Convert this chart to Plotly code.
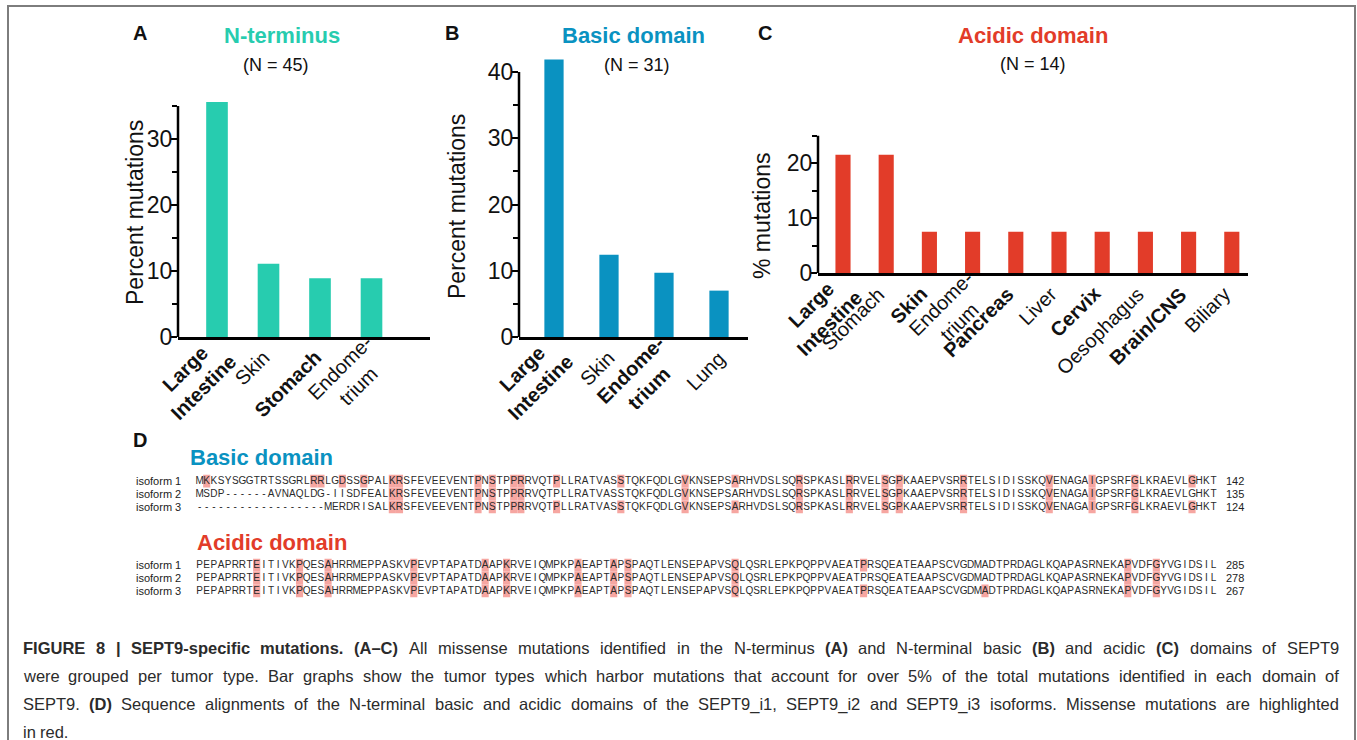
import plotly.graph_objects as go

W, H = 1357, 740

# ---------------- bar chart data ----------------
nterm_ticks = ["<b>Large<br>Intestine</b>", "Skin", "<b>Stomach</b>", "Endome-<br>trium"]
nterm_pct = [35.6, 11.1, 8.9, 8.9]

basic_ticks = ["<b>Large<br>Intestine</b>", "Skin", "<b>Endome-<br>trium</b>", "Lung"]
basic_pct = [41.9, 12.4, 9.7, 7.0]

acidic_ticks = ["<b>Large<br>Intestine</b>", "Stomach", "<b>Skin</b>", "Endome-<br>trium",
                "<b>Pancreas</b>", "Liver", "<b>Cervix</b>", "Oesophagus",
                "<b>Brain/CNS</b>", "Biliary"]
acidic_pct = [21.5, 21.5, 7.5, 7.5, 7.5, 7.5, 7.5, 7.5, 7.5, 7.5]

# ---------------- sequence alignment data ----------------
basic_seqs = [
    "MKKSYSGGTRTSSGRLRRLGDSSGPALKRSFEVEEVENTPNSTPPRRVQTPLLRATVASSTQKFQDLGVKNSEPSARHVDSLSQRSPKASLRRVELSGPKAAEPVSRRTELSIDISSKQVENAGAIGPSRFGLKRAEVLGHKT",
    "MSDP------AVNAQLDG-IISDFEALKRSFEVEEVENTPNSTPPRRVQTPLLRATVASSTQKFQDLGVKNSEPSARHVDSLSQRSPKASLRRVELSGPKAAEPVSRRTELSIDISSKQVENAGAIGPSRFGLKRAEVLGHKT",
    "------------------MERDRISALKRSFEVEEVENTPNSTPPRRVQTPLLRATVASSTQKFQDLGVKNSEPSARHVDSLSQRSPKASLRRVELSGPKAAEPVSRRTELSIDISSKQVENAGAIGPSRFGLKRAEVLGHKT",
]
basic_ends = [142, 135, 124]
basic_hits = [
    [2, 17, 18, 21, 24, 28, 29, 40, 42, 45, 46, 51, 60, 69, 76, 85, 92, 97, 99, 108, 120, 126, 132, 140],
    [28, 29, 40, 42, 45, 46, 69, 85, 92, 97, 99, 108, 120, 126, 132],
    [28, 29, 40, 42, 45, 46, 51, 60, 69, 76, 85, 92, 97, 99, 108, 120, 126, 132, 140],
]

acidic_seq = "PEPAPRRTEITIVKPQESAHRRMEPPASKVPEVPTAPATDAAPKRVEIQMPKPAEAPTAPSPAQTLENSEPAPVSQLQSRLEPKPQPPVAEATPRSQEATEAAPSCVGDMADTPRDAGLKQAPASRNEKAPVDFGYVGIDSIL"
acidic_seqs = [acidic_seq, acidic_seq, acidic_seq]
acidic_ends = [285, 278, 267]
acidic_hits = [
    [9, 15, 19, 31, 41, 44, 54, 59, 61, 76, 94, 131, 135],
    [9, 15, 19, 31, 41, 44, 54, 59, 61, 76, 131, 135],
    [9, 15, 19, 31, 41, 44, 54, 59, 61, 76, 94, 111, 131, 135],
]
isoform_names = ["isoform 1", "isoform 2", "isoform 3"]

# caption: list of lines, each a list of (text, bold) runs
caption_lines = [
    [("FIGURE 8 | SEPT9-specific mutations. (A–C)", True),
     (" All missense mutations identified in the N-terminus ", False), ("(A)", True),
     (" and N-terminal basic ", False), ("(B)", True), (" and acidic ", False), ("(C)", True),
     (" domains of SEPT9", False)],
    [("were grouped per tumor type. Bar graphs show the tumor types which harbor mutations that account "
      "for over 5% of the total mutations identified in each domain of", False)],
    [("SEPT9. ", False), ("(D)", True),
     (" Sequence alignments of the N-terminal basic and acidic domains of the SEPT9_i1, SEPT9_i2 and "
      "SEPT9_i3 isoforms. Missense mutations are highlighted", False)],
    [("in red.", False)],
]

TEAL = "#27CCAF"
BLUE = "#0A92C1"
RED = "#E23C29"
HILITE = "#F6A6A1"
FONT = "Liberation Sans, Arial, sans-serif"


def fx(p):
    return p / W


def fy(p):
    return 1 - p / H


fig = go.Figure()
annotations = []
shapes = []

# ---------------- bar panels ----------------
panels = [
    # axis suffix, ticks, values, colour, bar width, x px, cat0 px, spacing, y0 px, px/unit, ymax, axis top, label dx
    ("", nterm_ticks, nterm_pct, TEAL, 0.42, (178, 430), 217, 51.5, 337, 6.6, 36, 35, 8),
    ("2", basic_ticks, basic_pct, BLUE, 0.35, (519, 748), 554, 55.0, 337, 6.625, 43, 40, 13),
    ("3", acidic_ticks, acidic_pct, RED, 0.35, (818, 1248), 843, 43.2, 273, 5.5, 25, 25, 5),
]

for suf, ticks, vals, col, bw, (xl, xr), c0, sp, y0, ppu, ymax, ytop, ldx in panels:
    xs = list(range(len(vals)))
    xa, ya = "x" + suf, "y" + suf
    fig.add_trace(go.Bar(x=xs, y=vals, width=bw, marker=dict(color=col, line=dict(width=0)),
                         xaxis=xa, yaxis=ya, showlegend=False, hoverinfo="skip"))
    ytop_px = y0 - ymax * ppu
    fig.layout["xaxis" + suf] = dict(
        domain=[fx(xl), fx(xr)], anchor=ya,
        range=[(xl - c0) / sp, (xr - c0) / sp],
        tickmode="array", tickvals=xs, showticklabels=False,
        showline=True, linewidth=2.5, linecolor="black", ticks="",
        showgrid=False, zeroline=False, fixedrange=True, automargin=False,
    )
    fig.layout["yaxis" + suf] = dict(
        domain=[fy(y0), fy(ytop_px)], anchor=xa, range=[0, ymax],
        tickmode="linear", tick0=0, dtick=10, ticks="outside", ticklen=6, tickwidth=2,
        tickcolor="black", ticklabelstandoff=-6,
        minor=dict(dtick=5, tick0=0, ticks="outside", ticklen=5, tickwidth=2, tickcolor="black"),
        tickfont=dict(family=FONT, size=23, color="#111"),
        showline=False, showgrid=False, zeroline=False, fixedrange=True, automargin=False,
    )
    shapes.append(dict(type="line", xref=xa + " domain", yref=ya,
                       x0=0, x1=0, y0=0, y1=ytop, line=dict(color="black", width=2.5)))
    # rotated category labels, lines centred within each label
    for i, t in zip(xs, ticks):
        two_line = "<br>" in t
        annotations.append(dict(x=i, y=0, xref=xa, yref=ya + " domain", text=t, textangle=-45,
                                xanchor="right", yanchor="top", align="center",
                                xshift=26 if two_line else ldx, yshift=8 if two_line else -7,
                                showarrow=False, font=dict(family=FONT, size=20, color="#111")))

# ---------------- sequence alignment panels ----------------
PITCH = 7.14
SEQ_X0 = 196
ROW_H = 13
blocks = [
    ("4", basic_seqs, basic_hits, basic_ends, 481),
    ("5", acidic_seqs, acidic_hits, acidic_ends, 565),
]
for suf, seqs, hits, ends, top_row in blocks:
    n = max(len(s) for s in seqs)
    for r, (seq, hit) in enumerate(zip(seqs, hits)):
        fig.add_trace(go.Bar(x=hit, y=[1] * len(hit), base=[r - 0.5] * len(hit), width=1.0,
                             marker=dict(color=HILITE, line=dict(width=0)),
                             xaxis="x" + suf, yaxis="y" + suf, showlegend=False, hoverinfo="skip"))
    for r, seq in enumerate(seqs):
        fig.add_trace(go.Scatter(x=list(range(1, len(seq) + 1)), y=[r] * len(seq), text=list(seq),
                                 mode="text", textfont=dict(family=FONT, size=10, color="#2a2a2a"),
                                 xaxis="x" + suf, yaxis="y" + suf, cliponaxis=False,
                                 showlegend=False, hoverinfo="skip"))
        annotations.append(dict(x=0.5, y=r, xref="x" + suf, yref="y" + suf, text=isoform_names[r],
                                xanchor="right", xshift=-13, showarrow=False,
                                font=dict(family=FONT, size=11, color="#222")))
        annotations.append(dict(x=n + 0.5, y=r, xref="x" + suf, yref="y" + suf, text=str(ends[r]),
                                xanchor="left", xshift=7, showarrow=False,
                                font=dict(family=FONT, size=11, color="#222")))
    top_px = top_row - ROW_H / 2
    bot_px = top_row + 2 * ROW_H + ROW_H / 2
    fig.layout["xaxis" + suf] = dict(domain=[fx(SEQ_X0), fx(SEQ_X0 + n * PITCH)], range=[0.5, n + 0.5],
                                     anchor="y" + suf, visible=False, fixedrange=True, automargin=False)
    fig.layout["yaxis" + suf] = dict(domain=[fy(bot_px), fy(top_px)], range=[2.5, -0.5],
                                     anchor="x" + suf, visible=False, fixedrange=True, automargin=False)


def ptext(x, y, text, size, color="#111", anchor="center", bold=False, angle=0):
    t = "<b>%s</b>" % text if bold else text
    annotations.append(dict(x=fx(x), y=fy(y), xref="paper", yref="paper", text=t, showarrow=False,
                            xanchor=anchor, yanchor="middle", textangle=angle,
                            font=dict(family=FONT, size=size, color=color)))


# panel letters and titles
ptext(140, 33, "A", 20, "#111", bold=True)
ptext(282, 36, "N-terminus", 22, TEAL, bold=True)
ptext(276, 65, "(N = 45)", 18)
ptext(452, 33, "B", 20, "#111", bold=True)
ptext(633, 36, "Basic domain", 22, BLUE, bold=True)
ptext(637, 65, "(N = 31)", 18)
ptext(765, 33, "C", 20, "#111", bold=True)
ptext(1033, 36, "Acidic domain", 22, RED, bold=True)
ptext(1033, 64, "(N = 14)", 18)
ptext(140, 440, "D", 20, "#111", bold=True)
ptext(188, 457, "Basic domain", 22, BLUE, anchor="left", bold=True)
ptext(195, 542, "Acidic domain", 22, RED, anchor="left", bold=True)

# y-axis titles
ptext(135, 213, "Percent mutations", 23, angle=-90)
ptext(457, 207, "Percent mutations", 23, angle=-90)
ptext(762, 216, "% mutations", 23, angle=-90)

# ---------------- justified caption ----------------
# Arial / Liberation Sans advance widths (1/1000 em)
REG = dict(zip(" ()-.,|%_–0123456789", [278, 333, 333, 333, 278, 278, 260, 889, 556, 556] + [556] * 10))
REG.update(zip("ABCDEFGHIJKLMNOPQRSTUVWXYZ",
               [667, 667, 722, 722, 667, 611, 778, 722, 278, 500, 667, 556, 833, 722, 778, 667, 778,
                722, 667, 611, 722, 667, 944, 667, 667, 611]))
REG.update(zip("abcdefghijklmnopqrstuvwxyz",
               [556, 556, 500, 556, 556, 278, 556, 556, 222, 222, 500, 222, 833, 556, 556, 556, 556,
                333, 500, 278, 556, 500, 722, 500, 500, 500]))
BOLD = dict(REG)
BOLD.update({"|": 280})
BOLD.update(zip("ABCDEFGHIJKLMNOPQRSTUVWXYZ",
                [722, 722, 722, 722, 667, 611, 778, 722, 278, 556, 722, 611, 833, 722, 778, 667, 778,
                 722, 667, 611, 722, 667, 944, 667, 667, 611]))
BOLD.update(zip("abcdefghijklmnopqrstuvwxyz",
                [556, 611, 556, 611, 556, 333, 611, 611, 278, 278, 556, 278, 889, 611, 611, 611, 611,
                 389, 556, 333, 611, 556, 778, 556, 556, 500]))

CAP_SIZE = 16.5
CAP_LEFT, CAP_RIGHT = 22, 1338


def text_w(s, bold):
    table = BOLD if bold else REG
    return sum(table.get(c, 556) for c in s) * CAP_SIZE / 1000.0


for li, runs in enumerate(caption_lines):
    # split runs into words, keeping bold flags; words are separated by spaces
    words = []
    cur = []
    for txt, bold in runs:
        for k, piece in enumerate(txt.split(" ")):
            if k > 0 and cur:
                words.append(cur)
                cur = []
            if piece:
                cur.append((piece, bold))
    if cur:
        words.append(cur)
    widths = [sum(text_w(p, b) for p, b in w) for w in words]
    space = text_w(" ", False)
    justify = li < len(caption_lines) - 1
    if justify and len(words) > 1:
        gap = (CAP_RIGHT - CAP_LEFT - sum(widths)) / (len(words) - 1)
    else:
        gap = space
    x = CAP_LEFT
    y = 648 + 28 * li
    for w, wd in zip(words, widths):
        html = "".join("<b>%s</b>" % p if b else p for p, b in w)
        annotations.append(dict(x=fx(x), y=fy(y), xref="paper", yref="paper", text=html,
                                showarrow=False, xanchor="left", yanchor="middle", borderpad=0,
                                font=dict(family=FONT, size=CAP_SIZE, color="#2b2b2b")))
        x += wd + gap

# outer frame
shapes.append(dict(type="rect", xref="paper", yref="paper", x0=fx(8), x1=fx(1355), y0=fy(780), y1=fy(6),
                   line=dict(color="#7d7d7d", width=2), fillcolor="rgba(0,0,0,0)", layer="below"))

fig.update_layout(
    width=W, height=H, margin=dict(l=0, r=0, t=0, b=0, autoexpand=False),
    paper_bgcolor="white", plot_bgcolor="white",
    showlegend=False, shapes=shapes, annotations=annotations,
    font=dict(family=FONT, color="#111"), barmode="overlay",
)

fig.write_html("out.html", config={"displayModeBar": False})
